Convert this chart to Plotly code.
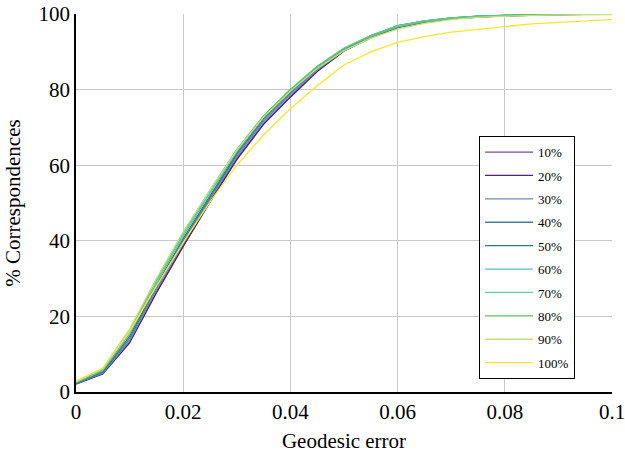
import plotly.graph_objects as go

geodesic_error = [0, 0.005, 0.01, 0.015, 0.02, 0.025, 0.03, 0.035, 0.04, 0.045, 0.05,
                  0.055, 0.06, 0.065, 0.07, 0.075, 0.08, 0.085, 0.09, 0.095, 0.1]

series_names = ["10%", "20%", "30%", "40%", "50%", "60%", "70%", "80%", "90%", "100%"]

s10 = [2.2, 5.0, 13.3, 26.5, 38.8, 50.5, 61.8, 71.0, 78.2, 85.0, 90.3, 93.8, 96.5, 97.9, 98.7, 99.2, 99.5, 99.7, 99.85, 99.9, 100]
s20 = [2.1, 4.8, 13.0, 26.2, 38.5, 50.2, 61.5, 70.8, 78.0, 84.8, 90.2, 93.7, 96.4, 97.8, 98.7, 99.2, 99.5, 99.7, 99.85, 99.9, 100]
s30 = [2.2, 5.0, 13.6, 27.0, 39.3, 51.0, 62.3, 71.5, 78.6, 85.2, 90.4, 93.9, 96.6, 98.0, 98.8, 99.3, 99.6, 99.8, 99.9, 99.95, 100]
s40 = [2.3, 5.2, 14.2, 27.6, 40.0, 51.5, 62.8, 72.0, 79.0, 85.5, 90.6, 94.1, 96.8, 98.1, 98.9, 99.4, 99.6, 99.8, 99.9, 99.95, 100]
s50 = [2.4, 5.4, 14.8, 28.2, 40.6, 52.0, 63.2, 72.4, 79.4, 85.8, 90.8, 94.3, 96.9, 98.2, 99.0, 99.4, 99.7, 99.85, 99.9, 99.95, 100]
s60 = [2.5, 5.7, 15.4, 28.8, 41.2, 52.6, 63.6, 72.7, 79.7, 86.0, 90.9, 94.3, 96.9, 98.2, 99.0, 99.4, 99.7, 99.85, 99.9, 99.95, 100]
s70 = [2.6, 5.9, 16.0, 29.4, 41.8, 53.0, 64.0, 73.0, 80.0, 86.2, 91.0, 94.3, 96.8, 98.1, 98.9, 99.4, 99.6, 99.8, 99.9, 99.95, 100]
s80 = [2.7, 6.1, 16.4, 29.8, 42.2, 53.4, 64.2, 73.1, 80.0, 86.1, 90.8, 94.1, 96.5, 97.9, 98.8, 99.3, 99.6, 99.8, 99.9, 99.95, 100]
s90 = [2.8, 6.3, 16.6, 30.0, 42.4, 53.4, 64.0, 72.8, 79.6, 85.6, 90.3, 93.6, 96.0, 97.5, 98.5, 99.1, 99.4, 99.6, 99.75, 99.8, 99.85]
s100 = [2.8, 6.2, 16.0, 28.0, 39.5, 50.3, 60.0, 68.0, 75.0, 81.0, 86.5, 90.0, 92.5, 94.0, 95.2, 96.0, 96.8, 97.4, 97.8, 98.2, 98.5]

series_values = [s10, s20, s30, s40, s50, s60, s70, s80, s90, s100]
colors = ["#7b4c8e", "#45277a", "#7c84b4", "#4d7d9e", "#23807f",
          "#5ec2b0", "#62cca6", "#62c064", "#c6e07e", "#f9e62c"]

serif = "Liberation Serif"

fig = go.Figure()
for i, (name, vals, col) in enumerate(zip(series_names, series_values, colors)):
    fig.add_trace(go.Scatter(
        x=geodesic_error, y=vals, mode="lines", name=name,
        line=dict(color=col, width=1.3), legendgroup=f"g{i}",
    ))

fig.update_layout(
    width=625, height=453,
    margin=dict(l=76, r=13, t=14, b=61),
    plot_bgcolor="white", paper_bgcolor="white",
    font=dict(family=serif, color="black", size=21),
    showlegend=True,
    legend=dict(
        x=0.752, y=0.677, xanchor="left", yanchor="top",
        bordercolor="black", borderwidth=1, bgcolor="white",
        font=dict(family=serif, size=13, color="black"),
        tracegroupgap=3.5, traceorder="grouped",
        itemwidth=48, entrywidth=84, entrywidthmode="pixels",
    ),
    xaxis=dict(
        range=[0, 0.1], dtick=0.02, tick0=0, automargin=False,
        ticklabeloverflow="allow",
        showgrid=True, gridcolor="#c8c8c8", gridwidth=1,
        showline=True, linecolor="black", linewidth=1.5,
        zeroline=False, ticks="", tickfont=dict(size=21),
        title=dict(text="Geodesic error", font=dict(size=21), standoff=12),
    ),
    yaxis=dict(
        range=[0, 100], dtick=20, tick0=0, automargin=False,
        ticklabeloverflow="allow",
        showgrid=True, gridcolor="#c8c8c8", gridwidth=1,
        showline=True, linecolor="black", linewidth=1.5,
        zeroline=False, ticks="", tickfont=dict(size=21),
        title=dict(text="% Correspondences", font=dict(size=21), standoff=12),
    ),
)

fig.write_html("out.html")
